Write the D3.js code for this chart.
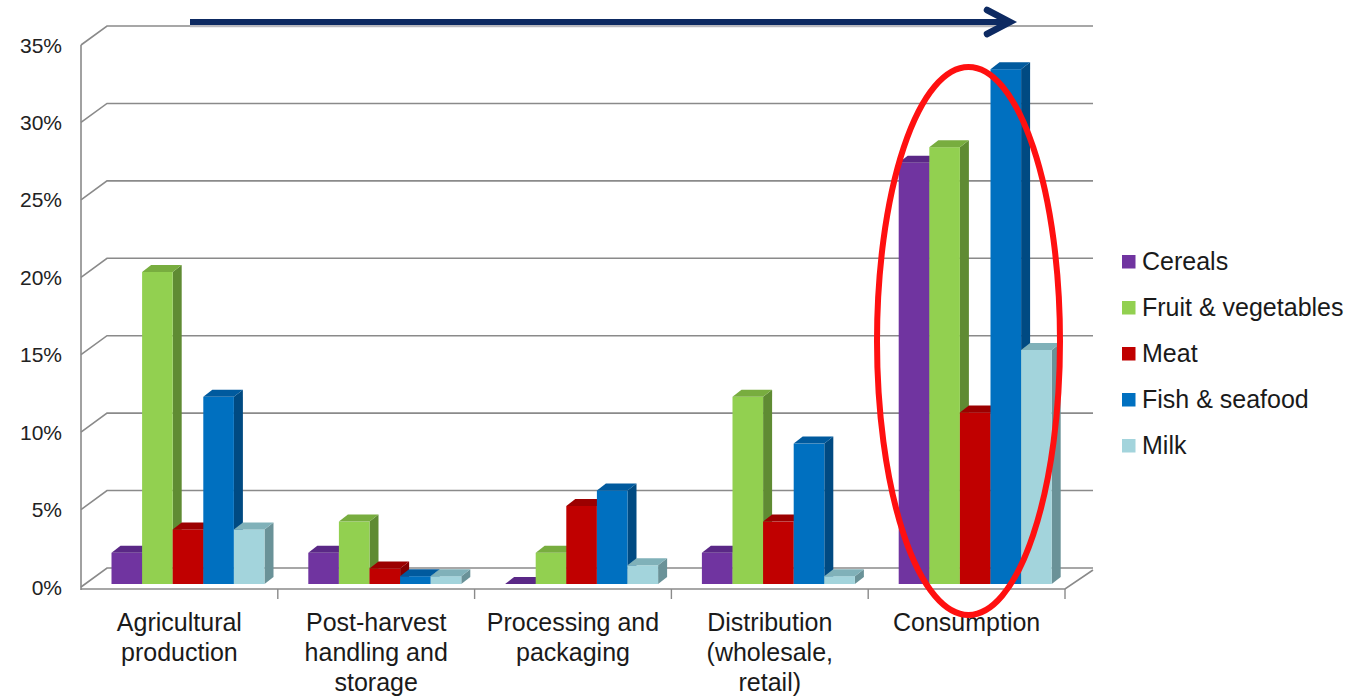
<!DOCTYPE html>
<html>
<head>
<meta charset="utf-8">
<script src="https://cdn.jsdelivr.net/npm/d3@7"></script>
<style>
  html, body { margin: 0; padding: 0; background: #ffffff; }
  svg { display: block; font-family: "Liberation Sans", Arial, sans-serif; }
</style>
</head>
<body>
<svg id="chart" width="1363" height="696"></svg>
<script>
// ---- data ----
const categories = ["Agricultural production", "Post-harvest handling and storage", "Processing and packaging", "Distribution (wholesale, retail)", "Consumption"];
const categoryLines = [["Agricultural", "production"], ["Post-harvest", "handling and", "storage"], ["Processing and", "packaging"], ["Distribution", "(wholesale,", "retail)"], ["Consumption"]];
const seriesNames = ["Cereals", "Fruit & vegetables", "Meat", "Fish & seafood", "Milk"];
const cereals = [2, 2, 0, 2, 27];
const fruitVeg = [20, 4, 2, 12, 28];
const meat = [3.5, 1, 5, 4, 11];
const fish = [12, 0.5, 6, 9, 33];
const milk = [3.5, 0.5, 1.2, 0.5, 15];
const yTicks = [0, 5, 10, 15, 20, 25, 30, 35];
const yTickLabels = ["0%", "5%", "10%", "15%", "20%", "25%", "30%", "35%"];

const seriesValues = [cereals, fruitVeg, meat, fish, milk];
const colors = {
  front: ["#7034a0", "#92d050", "#c00000", "#0070c0", "#a3d4dc"],
  top:   ["#5a2886", "#78ad3f", "#9c0000", "#005a9e", "#80b1b9"],
  side:  ["#4d226f", "#5f8b33", "#840000", "#004a82", "#6a9298"]
};

const svg = d3.select("#chart");

// ---- scales ----
const x = d3.scaleBand().domain(categories).range([81, 1065]).padding(0);
const s = d3.scaleBand().domain(seriesNames).range([30.5, 183.5]).padding(0);
const yFront = d3.scaleLinear().domain([0, 35]).range([587, 45]);
const yBar = d3.scaleLinear().domain([0, 35]).range([584, 38]);
const wallDx = 26, wallDy = -19;
const barDx = 9, barDy = -7;
const gridColor = "#8a8a8a";

// ---- walls / gridlines ----
const grid = svg.append("g");
yTicks.forEach(t => {
  const yf = yFront(t), yb = yf + wallDy;
  grid.append("path")
    .attr("d", `M81,${yf}L${81 + wallDx},${yb}L1093,${yb}`)
    .attr("fill", "none").attr("stroke", gridColor).attr("stroke-width", 1.6);
});
grid.append("line").attr("x1", 81).attr("x2", 81).attr("y1", yFront(35)).attr("y2", 590)
  .attr("stroke", gridColor).attr("stroke-width", 1.6);
grid.append("path")
  .attr("d", `M81,589L1065,589L${1065 + 28},${589 + wallDy}`)
  .attr("fill", "none").attr("stroke", gridColor).attr("stroke-width", 1.6);
categories.forEach((c, i) => {
  const xx = x(c) + x.bandwidth();
  grid.append("line").attr("x1", xx).attr("x2", xx).attr("y1", 589).attr("y2", 599)
    .attr("stroke", gridColor).attr("stroke-width", 1.4);
});

// ---- y tick labels ----
svg.append("g").selectAll("text").data(yTicks).join("text")
  .attr("x", 62).attr("y", d => yFront(d) + 7.5)
  .attr("text-anchor", "end").attr("font-size", 21).attr("fill", "#222")
  .text((d, i) => yTickLabels[i]);

// ---- category labels ----
const catG = svg.append("g");
categories.forEach((c, i) => {
  const cx = x(c) + x.bandwidth() / 2;
  const t = catG.append("text").attr("text-anchor", "middle").attr("font-size", 25).attr("fill", "#1a1a1a");
  categoryLines[i].forEach((ln, j) => {
    t.append("tspan").attr("x", cx).attr("y", 631 + j * 30).text(ln);
  });
});

// ---- 3D bars ----
const bars = svg.append("g");
categories.forEach((c, ci) => {
  seriesNames.forEach((sn, si) => {
    const v = seriesValues[si][ci];
    const bx = x(c) + s(sn), w = s.bandwidth();
    const yt = yBar(v), yb = yBar(0);
    const g = bars.append("g");
    g.append("polygon")
      .attr("points", [[bx + w, yt], [bx + w + barDx, yt + barDy], [bx + w + barDx, yb + barDy], [bx + w, yb]].map(p => p.join(",")).join(" "))
      .attr("fill", colors.side[si]);
    g.append("rect").attr("x", bx).attr("y", yt).attr("width", w).attr("height", yb - yt)
      .attr("fill", colors.front[si]);
    g.append("polygon")
      .attr("points", [[bx, yt], [bx + barDx, yt + barDy], [bx + w + barDx, yt + barDy], [bx + w, yt]].map(p => p.join(",")).join(" "))
      .attr("fill", colors.top[si]);
  });
});

// ---- legend ----
const leg = svg.append("g");
seriesNames.forEach((sn, i) => {
  const by = 270 + i * 46;
  leg.append("rect").attr("x", 1122).attr("y", by - 15).attr("width", 13.5).attr("height", 13.5)
    .attr("fill", colors.front[i]);
  leg.append("text").attr("x", 1142).attr("y", by).attr("font-size", 25).attr("fill", "#1a1a1a").text(sn);
});

// ---- arrow annotation ----
const arr = svg.append("g");
arr.append("path").attr("d", "M190,25L1009,25").attr("stroke", "#c8c8d0").attr("stroke-width", 5).attr("opacity", 0.6);
arr.append("path").attr("d", "M190,22L1008,22").attr("stroke", "#0d2a62").attr("stroke-width", 6).attr("stroke-linecap", "butt");
arr.append("path").attr("d", "M987,10L1010,22L987,34").attr("fill", "none")
  .attr("stroke", "#0d2a62").attr("stroke-width", 6.5).attr("stroke-linecap", "round").attr("stroke-linejoin", "miter");

// ---- red ellipse ----
svg.append("ellipse").attr("cx", 968.5).attr("cy", 341).attr("rx", 91.5).attr("ry", 274)
  .attr("fill", "none").attr("stroke", "#ff1010").attr("stroke-width", 6);
</script>
</body>
</html>
